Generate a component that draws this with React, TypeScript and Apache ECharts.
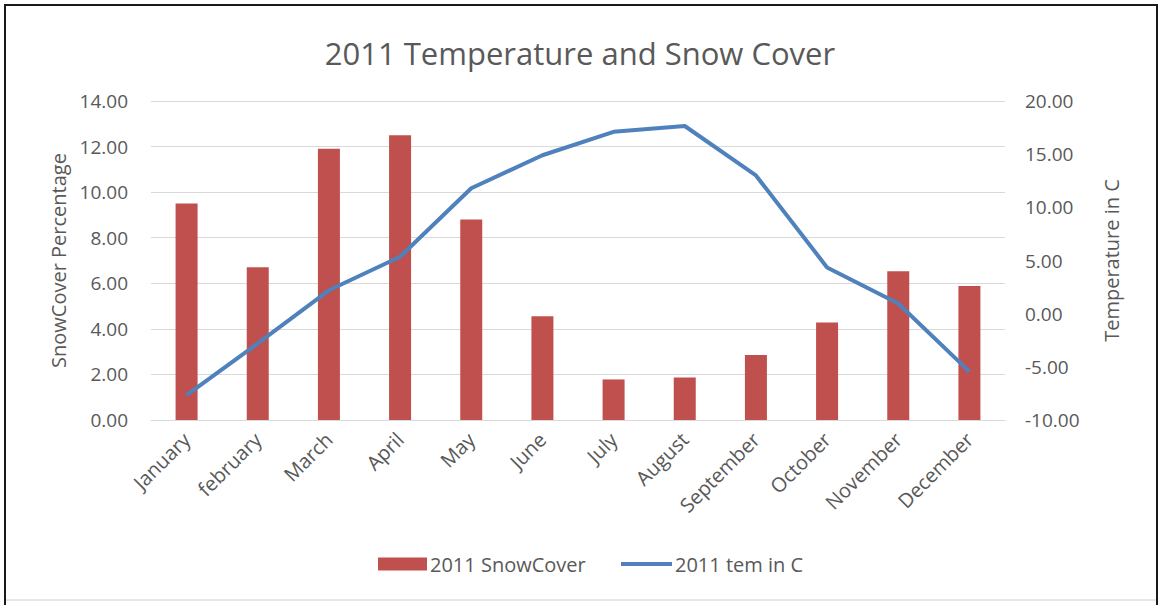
import React, { useEffect, useRef } from "react";
import * as echarts from "echarts";

const months = ["January", "february", "March", "April", "May", "June", "July", "August", "September", "October", "November", "December"];
const snowCover = [9.5, 6.7, 11.9, 12.5, 8.8, 4.55, 1.78, 1.87, 2.85, 4.28, 6.53, 5.88];
const temperature = [-7.65, -2.8, 2.2, 5.35, 11.8, 14.9, 17.1, 17.65, 13.0, 4.35, 0.95, -5.45];
const leftTicks = { min: 0, max: 14, interval: 2 };
const rightTicks = { min: -10, max: 20, interval: 5 };

const FONT = "'Open Sans', sans-serif";
const TXT = "#595959";

export default function App() {
  const ref = useRef<HTMLDivElement>(null);
  useEffect(() => {
    document.body.style.margin = "0";
    const chart = echarts.init(ref.current!, undefined, { renderer: "svg" });
    chart.setOption({
      animation: false,
      backgroundColor: "#ffffff",
      title: {
        text: "2011 Temperature and Snow Cover",
        left: "center",
        top: 32,
        textStyle: { fontFamily: FONT, fontSize: 31, fontWeight: "normal", color: TXT },
      },
      legend: [
        {
          top: 549,
          left: 373,
          itemWidth: 49,
          itemHeight: 13,
          itemGap: 4,
          textStyle: { fontFamily: FONT, fontSize: 20, color: TXT, padding: [0, 0, 0, -2] },
          data: [{ name: "2011 SnowCover", icon: "rect" }],
        },
        {
          top: 549,
          left: 616,
          itemWidth: 51,
          itemHeight: 4,
          textStyle: { fontFamily: FONT, fontSize: 20, color: TXT, padding: [0, 0, 0, -2] },
          data: [{ name: "2011 tem in C", icon: "rect" }],
        },
      ],
      grid: { left: 151, right: 155, top: 101, bottom: 185 },
      xAxis: {
        type: "category",
        data: months,
        axisLine: { lineStyle: { color: "#D9D9D9", width: 1 } },
        axisTick: { show: false },
        axisLabel: { rotate: 45, fontFamily: FONT, fontSize: 20, color: TXT, margin: 16, interval: 0 },
      },
      yAxis: [
        {
          type: "value",
          ...leftTicks,
          name: "SnowCover Percentage",
          nameLocation: "middle",
          nameGap: 82,
          nameTextStyle: { fontFamily: FONT, fontSize: 20, color: TXT },
          axisLabel: { formatter: (v: number) => v.toFixed(2), fontFamily: FONT, fontSize: 19, color: TXT, margin: 23 },
          splitLine: { lineStyle: { color: "#D9D9D9" } },
          axisLine: { show: false },
          axisTick: { show: false },
        },
        {
          type: "value",
          ...rightTicks,
          name: "Temperature in C",
          nameLocation: "middle",
          nameGap: 96,
          nameRotate: 90,
          nameTextStyle: { fontFamily: FONT, fontSize: 20, color: TXT },
          axisLabel: { formatter: (v: number) => v.toFixed(2), fontFamily: FONT, fontSize: 19, color: TXT, margin: 20 },
          splitLine: { show: false },
          axisLine: { show: false },
          axisTick: { show: false },
        },
      ],
      series: [
        {
          name: "2011 SnowCover",
          type: "bar",
          data: snowCover,
          barWidth: 22,
          itemStyle: { color: "#C0504D" },
        },
        {
          name: "2011 tem in C",
          type: "line",
          yAxisIndex: 1,
          data: temperature,
          symbol: "none",
          lineStyle: { color: "#4F81BD", width: 4 },
          itemStyle: { color: "#4F81BD" },
        },
      ],
      graphic: [
        { type: "line", shape: { x1: 5, y1: 5, x2: 1157, y2: 5 }, style: { stroke: "#1a1a1a", lineWidth: 2 } },
        { type: "line", shape: { x1: 5, y1: 4, x2: 5, y2: 605 }, style: { stroke: "#1a1a1a", lineWidth: 2 } },
        { type: "line", shape: { x1: 1157, y1: 4, x2: 1157, y2: 605 }, style: { stroke: "#1a1a1a", lineWidth: 2 } },
        { type: "line", shape: { x1: 6, y1: 600, x2: 1156, y2: 600 }, style: { stroke: "#D0D0D0", lineWidth: 1 } },
      ],
    });
    return () => chart.dispose();
  }, []);
  return <div ref={ref} style={{ width: 1160, height: 605 }} />;
}
